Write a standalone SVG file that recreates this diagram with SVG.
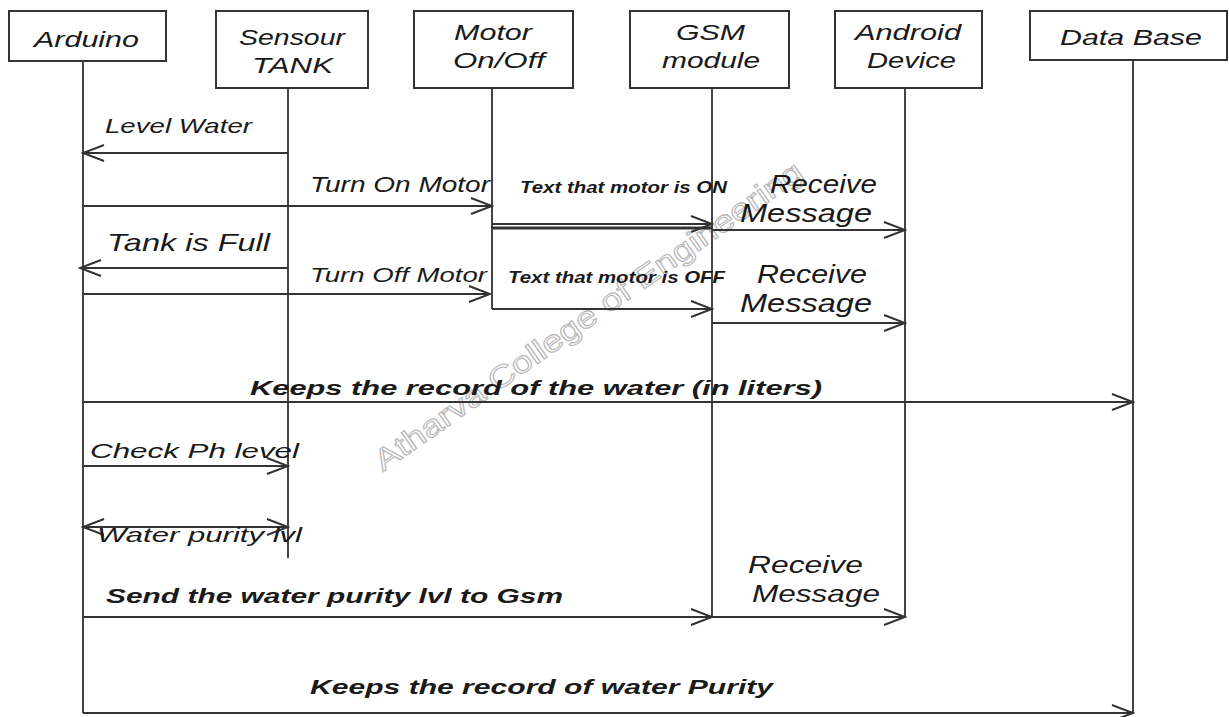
<svg xmlns="http://www.w3.org/2000/svg" width="1229" height="717" viewBox="0 0 1229 717">
<style>
text{font-family:"Liberation Sans",Arial,sans-serif;font-style:italic;fill:#1a1a1a;}
.h{font-size:22px;}
.m{font-size:21px;}
.b{font-weight:bold;}
.box{fill:#fff;stroke:#333;stroke-width:2;}
.life{stroke:#444;stroke-width:2;fill:none;}
.msg{stroke:#333;stroke-width:2;fill:none;marker-end:url(#ah);}
.wm{font-style:normal;font-size:30px;fill:none;stroke:#b8b8b8;stroke-width:1.1;}
</style>
<defs>
<marker id="ah" viewBox="-23 -10 25 20" refX="0" refY="0" markerWidth="25" markerHeight="20" markerUnits="userSpaceOnUse" orient="auto-start-reverse">
<path d="M-21,-8 L0,0 L-21,8" fill="none" stroke="#333" stroke-width="2"/>
</marker>
</defs>
<rect width="1229" height="717" fill="#fff"/>
<text class="wm" x="383" y="472" transform="rotate(-35 383 472)" textLength="515" lengthAdjust="spacingAndGlyphs">Atharva College of Engineering</text>

<g id="lifelines">
<line class="life" x1="83" y1="61" x2="83" y2="713"/>
<line class="life" x1="288" y1="88" x2="288" y2="558"/>
<line class="life" x1="492" y1="88" x2="492" y2="309"/>
<line class="life" x1="712" y1="88" x2="712" y2="617"/>
<line class="life" x1="905" y1="88" x2="905" y2="617"/>
<line class="life" x1="1133" y1="60" x2="1133" y2="713"/>
</g>

<g id="arduino"><rect class="box" x="9" y="11" width="157" height="50"/><text class="h" x="34" y="47" textLength="105" lengthAdjust="spacingAndGlyphs">Arduino</text></g>
<g id="sensour"><rect class="box" x="216" y="11" width="152" height="77"/><text class="h" x="239" y="45" textLength="106" lengthAdjust="spacingAndGlyphs">Sensour</text><text class="h" x="252" y="73" textLength="81" lengthAdjust="spacingAndGlyphs">TANK</text></g>
<g id="motor"><rect class="box" x="414" y="11" width="159" height="77"/><text class="h" x="454" y="40" textLength="78" lengthAdjust="spacingAndGlyphs">Motor</text><text class="h" x="453" y="68" textLength="92" lengthAdjust="spacingAndGlyphs">On/Off</text></g>
<g id="gsm"><rect class="box" x="630" y="11" width="159" height="77"/><text class="h" x="676" y="40" textLength="69" lengthAdjust="spacingAndGlyphs">GSM</text><text class="h" x="662" y="68" textLength="98" lengthAdjust="spacingAndGlyphs">module</text></g>
<g id="android"><rect class="box" x="835" y="11" width="147" height="77"/><text class="h" x="855" y="40" textLength="106" lengthAdjust="spacingAndGlyphs">Android</text><text class="h" x="867" y="68" textLength="89" lengthAdjust="spacingAndGlyphs">Device</text></g>
<g id="database"><rect class="box" x="1030" y="11" width="197" height="49"/><text class="h" x="1060" y="45" textLength="142" lengthAdjust="spacingAndGlyphs">Data Base</text></g>

<g id="connectors">
<line class="msg" x1="288" y1="153" x2="83" y2="153"/>
<line class="msg" x1="83" y1="206" x2="492" y2="206"/>
<line class="msg" x1="492" y1="224" x2="712" y2="224"/>
<line x1="492" y1="228" x2="712" y2="228" stroke="#333" stroke-width="3"/>
<line class="life" x1="492" y1="228" x2="492" y2="309"/>
<line class="msg" x1="712" y1="230" x2="905" y2="230"/>
<line class="msg" x1="288" y1="268" x2="80" y2="268"/>
<line class="msg" x1="83" y1="294" x2="490" y2="294"/>
<line class="msg" x1="492" y1="309" x2="712" y2="309"/>
<line class="msg" x1="712" y1="323" x2="905" y2="323"/>
<line class="msg" x1="83" y1="402" x2="1133" y2="402"/>
<line class="msg" x1="83" y1="466" x2="288" y2="466"/>
<line class="msg" x1="83" y1="527" x2="288" y2="527" style="marker-start:url(#ah)"/>
<line class="msg" x1="83" y1="617" x2="712" y2="617"/>
<line class="msg" x1="712" y1="617" x2="905" y2="617"/>
<line class="msg" x1="83" y1="713" x2="1133" y2="713"/>
</g>

<g id="labels">
<text class="m" x="105" y="133" textLength="147" lengthAdjust="spacingAndGlyphs">Level Water</text>
<text class="m" style="font-size:22px" x="310" y="192" textLength="180" lengthAdjust="spacingAndGlyphs">Turn On Motor</text>
<text class="b" style="font-size:17px" x="520" y="193" textLength="207" lengthAdjust="spacingAndGlyphs">Text that motor is ON</text>
<text style="font-size:25px" x="770" y="193" textLength="107" lengthAdjust="spacingAndGlyphs">Receive</text>
<text style="font-size:25px" x="740" y="222" textLength="132" lengthAdjust="spacingAndGlyphs">Message</text>
<text style="font-size:24px" x="107" y="251" textLength="163" lengthAdjust="spacingAndGlyphs">Tank is Full</text>
<text class="m" x="310" y="282" textLength="177" lengthAdjust="spacingAndGlyphs">Turn Off Motor</text>
<text class="b" style="font-size:17px" x="508" y="283" textLength="217" lengthAdjust="spacingAndGlyphs">Text that motor is OFF</text>
<text style="font-size:25px" x="757" y="283" textLength="110" lengthAdjust="spacingAndGlyphs">Receive</text>
<text style="font-size:25px" x="740" y="312" textLength="132" lengthAdjust="spacingAndGlyphs">Message</text>
<text class="b" style="font-size:21px" x="250" y="395" textLength="572" lengthAdjust="spacingAndGlyphs">Keeps the record of the water (in liters)</text>
<text class="m" x="90" y="458" textLength="209" lengthAdjust="spacingAndGlyphs">Check Ph level</text>
<text class="m" x="97" y="542" textLength="205" lengthAdjust="spacingAndGlyphs">Water purity lvl</text>
<text class="b" style="font-size:21px" x="106" y="603" textLength="457" lengthAdjust="spacingAndGlyphs">Send the water purity lvl to Gsm</text>
<text style="font-size:24px" x="748" y="573" textLength="115" lengthAdjust="spacingAndGlyphs">Receive</text>
<text style="font-size:24px" x="752" y="602" textLength="128" lengthAdjust="spacingAndGlyphs">Message</text>
<text class="b" style="font-size:21px" x="310" y="694" textLength="463" lengthAdjust="spacingAndGlyphs">Keeps the record of water Purity</text>
</g>
</svg>
